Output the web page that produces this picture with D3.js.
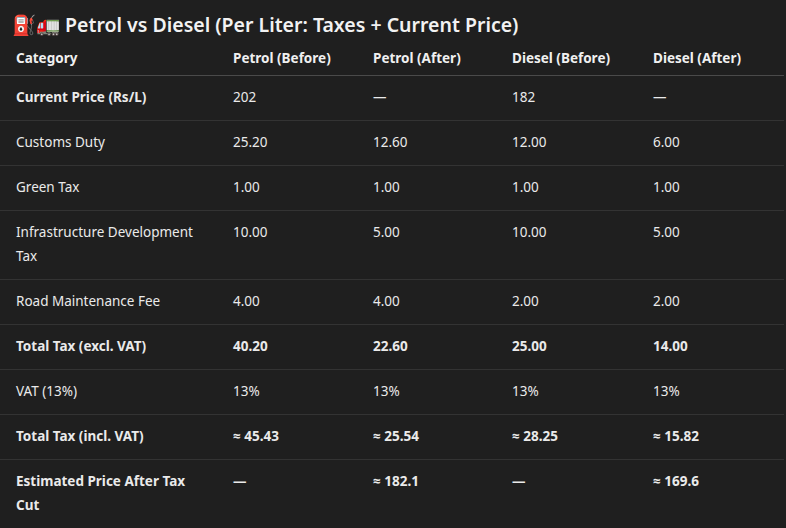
<!DOCTYPE html>
<html><head><meta charset="utf-8">
<script src="https://cdn.jsdelivr.net/npm/d3@7"></script>
<style>body{margin:0;background:#1f1f1f;}</style>
</head><body>
<svg id="chart" width="786" height="528"></svg>
<script>
const columns = ['Category', 'Petrol (Before)', 'Petrol (After)', 'Diesel (Before)', 'Diesel (After)'];
const categories = ['Current Price (Rs/L)', 'Customs Duty', 'Green Tax', 'Infrastructure Development Tax',
  'Road Maintenance Fee', 'Total Tax (excl. VAT)', 'VAT (13%)', 'Total Tax (incl. VAT)', 'Estimated Price After Tax Cut'];
const petrolBefore = ['202', '25.20', '1.00', '10.00', '4.00', '40.20', '13%', '≈ 45.43', '—'];
const petrolAfter = ['—', '12.60', '1.00', '5.00', '4.00', '22.60', '13%', '≈ 25.54', '≈ 182.1'];
const dieselBefore = ['182', '12.00', '1.00', '10.00', '2.00', '25.00', '13%', '≈ 28.25', '—'];
const dieselAfter = ['—', '6.00', '1.00', '5.00', '2.00', '14.00', '13%', '≈ 15.82', '≈ 169.6'];
const boldRows = ['Current Price (Rs/L)', 'Total Tax (excl. VAT)', 'Total Tax (incl. VAT)', 'Estimated Price After Tax Cut'];
const boldLabelOnly = ['Current Price (Rs/L)'];

const svg = d3.select('#chart');
const font = "'Noto Sans', 'Open Sans', sans-serif";
const colX = [16, 233, 373, 512, 653];

svg.append('text')
  .attr('x', 12).attr('y', 32)
  .style('font-family', font).style('font-size', '19.5px').style('font-weight', 600)
  .style('fill', '#f2f2f2')
  .text('⛽🚛 Petrol vs Diesel (Per Liter: Taxes + Current Price)');

// header
svg.selectAll('.head').data(columns).join('text')
  .attr('x', (d, i) => colX[i]).attr('y', 63)
  .style('font-family', font).style('font-size', '13.5px').style('font-weight', 700)
  .style('fill', '#f0f0f0').text(d => d);
svg.append('line').attr('x1', 0).attr('x2', 784).attr('y1', 75.5).attr('y2', 75.5)
  .attr('stroke', '#4a4a4a');

let y = 76;
categories.forEach((cat, r) => {
  const bold = boldRows.includes(cat);
  const g = svg.append('g');
  const cells = [cat, petrolBefore[r], petrolAfter[r], dieselBefore[r], dieselAfter[r]];
  let lines = 1;
  cells.forEach((c, i) => {
    const b = bold && (i === 0 || !boldLabelOnly.includes(cat));
    const t = g.append('text').attr('x', colX[i]).attr('y', y + 26)
      .style('font-family', font).style('font-size', '13.5px')
      .style('font-weight', b ? 700 : 400).style('fill', '#eaeaea');
    if (i === 0) {
      // wrap category text into column width
      const words = c.split(' ');
      let line = [], n = 0;
      let ts = t.append('tspan').attr('x', colX[0]);
      words.forEach(w => {
        line.push(w);
        ts.text(line.join(' '));
        if (ts.node().getComputedTextLength() > 185 && line.length > 1) {
          line.pop(); ts.text(line.join(' '));
          line = [w]; n++;
          ts = t.append('tspan').attr('x', colX[0]).attr('dy', 24).text(w);
        }
      });
      lines = n + 1;
    } else {
      t.text(c);
    }
  });
  y += 45 + (lines - 1) * 24;
  if (r < categories.length - 1) {
    svg.append('line').attr('x1', 0).attr('x2', 784).attr('y1', y - 0.5).attr('y2', y - 0.5)
      .attr('stroke', '#333333');
  }
});
</script>
</body></html>
